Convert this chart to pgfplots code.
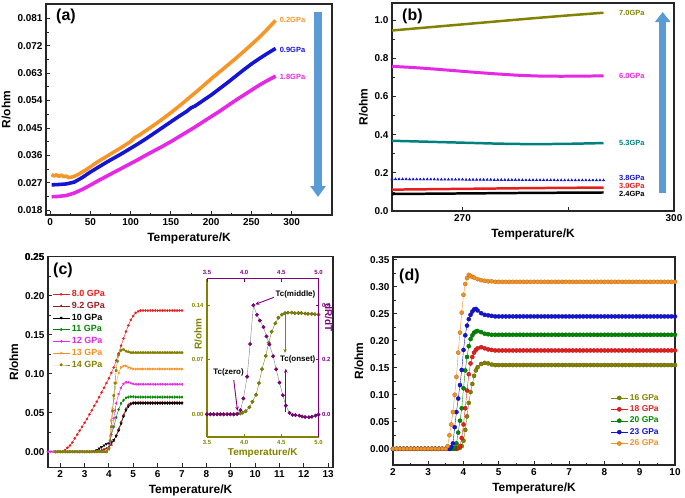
\documentclass[border=0pt]{standalone}
\usepackage{fontspec}
\setmainfont{Liberation Sans}
\usepackage{pgfplots}
\pgfplotsset{compat=1.18}
\usetikzlibrary{arrows.meta}

\definecolor{aorange}{RGB}{247,150,40}
\definecolor{ablue}{RGB}{20,20,210}
\definecolor{amag}{RGB}{230,40,230}
\definecolor{olv}{RGB}{130,130,0}
\definecolor{tealc}{RGB}{0,128,128}
\definecolor{redc}{RGB}{230,30,30}
\definecolor{dredc}{RGB}{150,30,30}
\definecolor{greenc}{RGB}{0,135,0}
\definecolor{orangec}{RGB}{245,145,35}
\definecolor{purp}{RGB}{128,0,128}
\definecolor{arrowblue}{RGB}{91,155,213}

\pgfplotsset{
  myaxis/.style={
    scale only axis,
    anchor=north west,
    tick align=inside,
    xtick pos=left, ytick pos=left,
    axis line style={line width=1.1pt, black!85},
    every tick/.style={black!85, line width=0.8pt},
    major tick length=4bp, minor tick length=2.5bp,
    tick label style={font=\bfseries\fontsize{10}{11}\selectfont},
    label style={font=\bfseries\fontsize{12}{13}\selectfont},
    /pgf/number format/assume math mode=true,
    scaled ticks=false,
  },
  dball/.style={line width=0.4pt, mark=*, mark size=2.1pt,
    mark options={fill=#1, draw=#1!75!black, line width=0.3pt}},
}
\tikzset{lab/.style={font=\bfseries\fontsize{7.5}{8}\selectfont, anchor=west, inner sep=0pt}}

\begin{document}
\begin{tikzpicture}
\path[use as bounding box] (0,0) rectangle (685bp,-498bp);

% ---------- (a)
\begin{axis}[myaxis, at={(46bp,-4bp)}, width=286bp, height=211bp,
  xmin=-5, xmax=350, ymin=0.0164, ymax=0.0857,
  xtick={0,50,...,300}, minor x tick num=1,
  ytick={0.018,0.027,0.036,0.045,0.054,0.063,0.072,0.081}, minor y tick num=1,
  yticklabel style={/pgf/number format/.cd, fixed, fixed zerofill, precision=3},
  xlabel={Temperature/K}, ylabel={R/ohm}]
\addplot[aorange, line width=3.6pt, line join=round] coordinates {
(2,0.0297)(5,0.0292)(8,0.0296)(11,0.0291)(14,0.0295)(17,0.0290)(20,0.0292)(23,0.0287)
(26,0.0288)(30,0.0291)(35,0.0297)(40,0.0305)(45,0.0313)(50,0.0322)(60,0.0340)(70,0.0356)
(80,0.0372)(90,0.0388)(100,0.0405)(105,0.0418)(110,0.0425)(120,0.0443)(130,0.0461)
(140,0.0480)(150,0.0500)(160,0.0521)(170,0.0543)(180,0.0565)(190,0.0588)(200,0.0611)
(210,0.0633)(220,0.0655)(230,0.0677)(240,0.0700)(250,0.0724)(260,0.0748)(270,0.0775)(280,0.0803)};
\addplot[ablue, line width=3.6pt, line join=round] coordinates {
(2,0.0263)(10,0.0264)(20,0.0266)(30,0.0272)(40,0.0287)(50,0.0305)(60,0.0321)(70,0.0337)
(80,0.0352)(90,0.0367)(100,0.0383)(110,0.0399)(120,0.0416)(130,0.0434)(140,0.0452)
(150,0.0470)(160,0.0488)(170,0.0505)(175,0.0516)(180,0.0522)(190,0.0540)(200,0.0558)
(210,0.0578)(220,0.0598)(230,0.0619)(240,0.0640)(250,0.0660)(260,0.0678)(270,0.0695)(280,0.0711)};
\addplot[amag, line width=3.6pt, line join=round] coordinates {
(2,0.0224)(10,0.0225)(20,0.0228)(30,0.0236)(40,0.0248)(50,0.0262)(60,0.0277)(70,0.0291)
(80,0.0305)(90,0.0319)(100,0.0333)(110,0.0347)(120,0.0362)(130,0.0376)(140,0.0390)
(150,0.0405)(160,0.0421)(170,0.0437)(180,0.0453)(190,0.0470)(200,0.0487)(210,0.0504)
(220,0.0522)(230,0.0540)(240,0.0557)(250,0.0574)(260,0.0591)(270,0.0606)(280,0.0620)};
\node[lab, aorange] at (axis cs:285,0.0805) {0.2GPa};
\node[lab, ablue] at (axis cs:285,0.0706) {0.9GPa};
\node[lab, amag] at (axis cs:285,0.0618) {1.8GPa};
\end{axis}

% ---------- (b)
\begin{axis}[myaxis, at={(392bp,-3bp)}, width=282bp, height=208bp,
  xmin=260, xmax=300, ymin=0, ymax=1.09,
  xtick={270,285,300}, xticklabels={270,,300},
  ytick={0,0.2,0.4,0.6,0.8,1.0}, minor y tick num=1,
  yticklabel style={/pgf/number format/.cd, fixed, fixed zerofill, precision=1},
  xlabel={Temperature/K}, ylabel={R/ohm}]
\addplot[olv, line width=2.5pt] coordinates {(260,0.946)(265,0.962)(270,0.978)(275,0.994)(280,1.010)(285,1.025)(290,1.039)};
\addplot[amag, line width=3pt] coordinates {(260,0.758)(263,0.752)(266,0.744)(269,0.735)(272,0.726)(275,0.718)(278,0.711)(281,0.707)(284,0.706)(287,0.707)(290,0.708)};
\addplot[tealc, line width=2.5pt] coordinates {(260,0.368)(265,0.363)(270,0.358)(275,0.353)(280,0.350)(285,0.352)(290,0.356)};
\addplot[ablue, only marks, mark=triangle*, mark size=1.4pt] coordinates {
(260,0.167)(260.5,0.167)(261,0.167)(261.5,0.167)(262,0.167)(262.5,0.166)(263,0.166)(263.5,0.166)(264,0.166)(264.5,0.166)
(265,0.166)(265.5,0.166)(266,0.166)(266.5,0.165)(267,0.165)(267.5,0.165)(268,0.165)(268.5,0.165)(269,0.165)(269.5,0.165)
(270,0.165)(270.5,0.164)(271,0.164)(271.5,0.164)(272,0.164)(272.5,0.164)(273,0.164)(273.5,0.164)(274,0.164)(274.5,0.163)
(275,0.163)(275.5,0.163)(276,0.163)(276.5,0.163)(277,0.163)(277.5,0.163)(278,0.163)(278.5,0.162)(279,0.162)(279.5,0.162)
(280,0.162)(280.5,0.162)(281,0.162)(281.5,0.162)(282,0.162)(282.5,0.162)(283,0.162)(283.5,0.161)(284,0.161)(284.5,0.161)
(285,0.161)(285.5,0.161)(286,0.161)(286.5,0.161)(287,0.161)(287.5,0.161)(288,0.161)(288.5,0.161)(289,0.161)(289.5,0.161)(290,0.161)};
\addplot[redc, line width=2.5pt] coordinates {(260,0.112)(270,0.116)(280,0.120)(290,0.123)};
\addplot[black, line width=2.5pt] coordinates {(260,0.089)(270,0.092)(280,0.095)(290,0.097)};
\node[lab, olv] at (axis cs:292.2,1.039) {7.0GPa};
\node[lab, amag] at (axis cs:292.2,0.709) {6.0GPa};
\node[lab, tealc] at (axis cs:292.2,0.358) {5.3GPa};
\node[lab, ablue] at (axis cs:292.2,0.174) {3.8GPa};
\node[lab, redc] at (axis cs:292.2,0.133) {3.0GPa};
\node[lab, black] at (axis cs:292.2,0.090) {2.4GPa};
\end{axis}

% ---------- (c)
\begin{axis}[myaxis, at={(48bp,-256.7bp)}, width=285bp, height=210.6bp,
  xmin=1.5, xmax=13.2, ymin=-0.02, ymax=0.25,
  xtick={2,3,...,13}, ytick={0,0.05,0.1,0.15,0.2,0.25},
  minor y tick num=1,
  yticklabel style={/pgf/number format/.cd, fixed, fixed zerofill, precision=2},
  xlabel={Temperature/K}, ylabel={R/ohm},
  legend style={at={(0.015,0.85)}, anchor=north west, draw=none, fill=none, inner sep=0pt,
    font=\bfseries\fontsize{9}{10}\selectfont, legend cell align=left}]
\addplot[redc, line width=0.4pt, mark=*, mark size=1.1pt] coordinates {
(2.0,0)(2.1,0)(2.2,.002)(2.3,.005)(2.4,.008)(2.5,.012)(2.6,.017)(2.7,.022)(2.8,.027)(2.9,.032)
(3.0,.037)(3.1,.042)(3.2,.048)(3.3,.053)(3.4,.059)(3.5,.064)(3.6,.070)(3.7,.076)(3.8,.082)(3.9,.088)
(4.0,.094)(4.1,.101)(4.2,.108)(4.3,.117)(4.4,.126)(4.5,.136)(4.6,.145)(4.7,.154)(4.8,.162)(4.9,.169)
(5.0,.174)(5.1,.178)(5.2,.180)(5.3,.181)(5.4,.181)(5.5,.181)(5.6,.181)(5.7,.181)(5.8,.181)(5.9,.181)
(6.0,.181)(6.1,.181)(6.2,.181)(6.3,.181)(6.4,.181)(6.5,.181)(6.6,.181)(6.7,.181)(6.8,.181)(6.9,.181)(7.0,.181)};
\addlegendentry{\textcolor{redc}{8.0 GPa}}
\addplot[dredc, line width=0.4pt, mark=triangle*, mark size=1.3pt] coordinates {
(1.8,0)(1.9,0)(2.0,0)(2.1,0)(2.2,0)(2.3,0)(2.4,0)(2.5,0)(2.6,0)(2.7,0)(2.8,0)(2.9,0)(3.0,0)(3.1,0)
(3.2,0)(3.3,0)(3.4,0)(3.5,0)(3.6,.001)(3.7,.002)(3.8,.003)(3.9,.004)(4.0,.006)(4.1,.009)(4.2,.014)
(4.3,.021)(4.4,.029)(4.5,.038)(4.6,.047)(4.7,.055)(4.8,.060)(4.9,.062)(5.0,.063)(5.1,.063)(5.2,.063)
(5.3,.063)(5.4,.063)(5.5,.063)(5.6,.063)(5.7,.063)(5.8,.063)(5.9,.063)(6.0,.063)(6.1,.063)(6.2,.063)
(6.3,.063)(6.4,.063)(6.5,.063)(6.6,.063)(6.7,.063)(6.8,.063)(6.9,.063)(7.0,.063)};
\addlegendentry{\textcolor{dredc}{9.2 GPa}}
\addplot[black, line width=0.4pt, mark=triangle*, mark size=1.3pt, mark options={rotate=180}] coordinates {
(1.8,0)(1.9,0)(2.0,0)(2.1,0)(2.2,0)(2.3,0)(2.4,0)(2.5,0)(2.6,0)(2.7,0)(2.8,0)(2.9,0)(3.0,0)(3.1,0)
(3.2,0)(3.3,0)(3.4,.001)(3.5,.002)(3.6,.004)(3.7,.006)(3.8,.008)(3.9,.010)(4.0,.011)(4.1,.012)(4.2,.015)
(4.3,.020)(4.4,.027)(4.5,.036)(4.6,.045)(4.7,.053)(4.8,.058)(4.9,.061)(5.0,.062)(5.1,.062)(5.2,.062)
(5.3,.062)(5.4,.062)(5.5,.062)(5.6,.062)(5.7,.062)(5.8,.062)(5.9,.062)(6.0,.062)(6.1,.062)(6.2,.062)
(6.3,.062)(6.4,.062)(6.5,.062)(6.6,.062)(6.7,.062)(6.8,.062)(6.9,.062)(7.0,.062)};
\addlegendentry{\textcolor{black}{10 GPa}}
\addplot[greenc, line width=0.4pt, mark=diamond*, mark size=1.3pt] coordinates {
(1.8,0)(1.9,0)(2.0,0)(2.1,0)(2.2,0)(2.3,0)(2.4,0)(2.5,0)(2.6,0)(2.7,0)(2.8,0)(2.9,0)(3.0,0)(3.1,0)
(3.2,0)(3.3,0)(3.4,0)(3.5,0)(3.6,0)(3.7,0)(3.8,0)(3.9,0)(4.0,.005)(4.05,.014)(4.1,.022)(4.2,.032)
(4.3,.044)(4.4,.054)(4.5,.062)(4.6,.066)(4.7,.069)(4.8,.070)(4.9,.0705)(5.0,.0705)(5.1,.070)(5.2,.070)
(5.3,.070)(5.4,.070)(5.5,.070)(5.6,.070)(5.7,.070)(5.8,.070)(5.9,.070)(6.0,.070)(6.1,.070)(6.2,.070)
(6.3,.070)(6.4,.070)(6.5,.070)(6.6,.070)(6.7,.070)(6.8,.070)(6.9,.070)(7.0,.070)};
\addlegendentry{\textcolor{greenc}{11 GPa}}
\addplot[amag, line width=0.4pt, mark=triangle*, mark size=1.3pt, mark options={rotate=90}] coordinates {
(1.5,0)(1.6,0)(1.7,0)(1.8,0)(1.9,0)(2.0,0)(2.1,0)(2.2,0)(2.3,0)(2.4,0)(2.5,0)(2.6,0)(2.7,0)(2.8,0)
(2.9,0)(3.0,0)(3.1,0)(3.2,0)(3.3,0)(3.4,0)(3.5,0)(3.6,0)(3.7,0)(3.8,0)(3.9,0)(4.0,.003)(4.05,.012)
(4.1,.022)(4.15,.032)(4.2,.043)(4.25,.053)(4.3,.062)(4.4,.074)(4.5,.082)(4.6,.087)(4.7,.089)(4.8,.089)
(4.9,.088)(5.0,.087)(5.1,.0865)(5.2,.0865)(5.3,.0865)(5.4,.0865)(5.5,.0865)(5.6,.0865)(5.7,.0865)
(5.8,.0865)(5.9,.0865)(6.0,.0865)(6.1,.0865)(6.2,.0865)(6.3,.0865)(6.4,.0865)(6.5,.0865)(6.6,.0865)
(6.7,.0865)(6.8,.0865)(6.9,.0865)(7.0,.0865)};
\addlegendentry{\textcolor{amag}{12 GPa}}
\addplot[orangec, line width=0.4pt, mark=triangle*, mark size=1.3pt, mark options={rotate=-90}] coordinates {
(1.8,0)(1.9,0)(2.0,0)(2.1,0)(2.2,0)(2.3,0)(2.4,0)(2.5,0)(2.6,0)(2.7,0)(2.8,0)(2.9,0)(3.0,0)(3.1,0)
(3.2,0)(3.3,0)(3.4,0)(3.5,0)(3.6,0)(3.7,0)(3.8,0)(3.9,0)(4.0,.004)(4.05,.020)(4.1,.040)(4.15,.055)
(4.2,.068)(4.3,.088)(4.4,.101)(4.5,.108)(4.6,.110)(4.7,.110)(4.8,.108)(4.9,.107)(5.0,.106)(5.1,.106)
(5.2,.106)(5.3,.106)(5.4,.106)(5.5,.106)(5.6,.106)(5.7,.106)(5.8,.106)(5.9,.106)(6.0,.106)(6.1,.106)
(6.2,.106)(6.3,.106)(6.4,.106)(6.5,.106)(6.6,.106)(6.7,.106)(6.8,.106)(6.9,.106)(7.0,.106)};
\addlegendentry{\textcolor{orangec}{13 GPa}}
\addplot[olv, line width=0.4pt, mark=pentagon*, mark size=1.3pt] coordinates {
(1.8,0)(1.9,0)(2.0,0)(2.1,0)(2.2,0)(2.3,0)(2.4,0)(2.5,0)(2.6,0)(2.7,0)(2.8,0)(2.9,0)(3.0,0)(3.1,0)
(3.2,0)(3.3,0)(3.4,0)(3.5,0)(3.6,0)(3.7,0)(3.8,0)(3.9,0)(4.0,.004)(4.05,.014)(4.1,.032)(4.15,.052)
(4.2,.072)(4.25,.088)(4.3,.104)(4.35,.116)(4.4,.124)(4.5,.130)(4.6,.131)(4.7,.129)(4.8,.128)(4.9,.127)
(5.0,.127)(5.1,.127)(5.2,.127)(5.3,.127)(5.4,.127)(5.5,.127)(5.6,.127)(5.7,.127)(5.8,.127)(5.9,.127)
(6.0,.127)(6.1,.127)(6.2,.127)(6.3,.127)(6.4,.127)(6.5,.127)(6.6,.127)(6.7,.127)(6.8,.127)(6.9,.127)(7.0,.127)};
\addlegendentry{\textcolor{olv}{14 GPa}}
\end{axis}

% ---------- (c) inset, R axis
\begin{axis}[myaxis, at={(207bp,-278.5bp)}, width=111.5bp, height=158.5bp,
  xmin=3.5, xmax=5.0, ymin=-0.0292, ymax=0.1744,
  axis x line*=bottom, axis y line*=left,
  axis line style={line width=1.1pt, olv},
  every tick/.style={olv, line width=0.6pt}, major tick length=3bp,
  xtick={3.5,4.0,4.5,5.0}, ytick={0,0.07,0.14},
  tick label style={font=\bfseries\fontsize{6}{7}\selectfont, text=olv},
  xticklabel style={/pgf/number format/.cd, fixed, fixed zerofill, precision=1},
  yticklabel style={/pgf/number format/.cd, fixed, fixed zerofill, precision=2},
  label style={font=\bfseries\fontsize{10}{11}\selectfont, text=olv},
  xlabel={Temperature/K}, ylabel={R/ohm},
  xlabel style={yshift=3bp},
  ylabel style={at={(axis description cs:-0.08,0.65)}, anchor=center}]
\addplot[olv, dball=olv, mark size=1.8pt] coordinates {
(3.50,0)(3.545,0)(3.59,0)(3.635,0)(3.68,0)(3.725,0)(3.77,0)(3.815,0)(3.86,0)(3.905,0)(3.95,0.001)
(3.98,0.002)(4.02,0.004)(4.07,0.009)(4.11,0.016)(4.16,0.025)(4.20,0.040)(4.24,0.058)(4.29,0.075)
(4.33,0.092)(4.37,0.106)(4.42,0.117)(4.46,0.124)(4.51,0.128)(4.55,0.130)(4.59,0.1305)(4.64,0.1305)
(4.68,0.130)(4.73,0.130)(4.77,0.130)(4.82,0.1295)(4.86,0.129)(4.91,0.129)(4.95,0.1285)(5.0,0.128)};
\end{axis}

% ---------- (c) inset, dR/dT axis
\begin{axis}[myaxis, at={(207bp,-278.5bp)}, width=111.5bp, height=158.5bp,
  xmin=3.5, xmax=5.0, ymin=-0.0834, ymax=0.498,
  axis x line*=top, axis y line*=right, xtick pos=right, ytick pos=right,
  axis line style={line width=1.1pt, purp},
  every tick/.style={purp, line width=0.6pt}, major tick length=3bp,
  xtick={3.5,4.0,4.5,5.0}, ytick={0,0.2,0.4},
  tick label style={font=\bfseries\fontsize{6}{7}\selectfont, text=purp},
  xticklabel style={/pgf/number format/.cd, fixed, fixed zerofill, precision=1},
  yticklabel style={/pgf/number format/.cd, fixed, fixed zerofill, precision=1},
  label style={font=\bfseries\fontsize{10}{11}\selectfont, text=purp},
  ylabel={dR/dT},
  ylabel style={at={(axis description cs:1.09,0.755)}, anchor=center, rotate=180},
  clip=false]
\addplot[gray, dball=purp, mark size=1.8pt] coordinates {
(3.50,0)(3.545,0)(3.59,0)(3.635,0)(3.68,0)(3.725,0)(3.77,0)(3.815,0)(3.86,0.0)(3.905,0.002)
(3.95,0.015)(3.99,0.058)(4.04,0.138)(4.08,0.258)(4.125,0.40)(4.17,0.365)(4.21,0.344)(4.26,0.32)
(4.30,0.286)(4.34,0.256)(4.39,0.213)(4.43,0.165)(4.475,0.116)(4.52,0.07)(4.56,0.032)(4.61,0.005)
(4.65,-0.002)(4.69,-0.003)(4.74,-0.005)(4.78,-0.008)(4.82,-0.01)(4.87,-0.011)(4.91,-0.009)(4.96,-0.005)(5.0,-0.001)};
\node[font=\bfseries\fontsize{8}{9}\selectfont] at (axis cs:4.69,0.438) {Tc(middle)};
\draw[purp, line width=0.9pt, -{Stealth[length=4bp,width=3.5bp]}] (axis cs:4.40,0.429) -- (axis cs:4.15,0.403);
\node[font=\bfseries\fontsize{8}{9}\selectfont] at (axis cs:3.79,0.153) {Tc(zero)};
\draw[purp, line width=0.9pt, -{Stealth[length=4bp,width=3.5bp]}] (axis cs:3.86,0.126) -- (axis cs:3.91,0.013);
\node[font=\bfseries\fontsize{8}{9}\selectfont] at (axis cs:4.72,0.201) {Tc(onset)};
\draw[olv, line width=0.9pt, -{Stealth[length=4bp,width=3.5bp]}] (axis cs:4.55,0.369) -- (axis cs:4.55,0.225);
\draw[purp, line width=0.9pt, -{Stealth[length=4bp,width=3.5bp]}] (axis cs:4.56,0.007) -- (axis cs:4.56,0.167);
\end{axis}

% ---------- (d)
\begin{axis}[myaxis, at={(393bp,-257bp)}, width=282bp, height=208bp,
  xmin=2, xmax=10, ymin=-0.03, ymax=0.355,
  xtick={2,3,...,10}, minor x tick num=1,
  ytick={0,0.05,0.10,0.15,0.20,0.25,0.30,0.35}, minor y tick num=1,
  yticklabel style={/pgf/number format/.cd, fixed, fixed zerofill, precision=2},
  xlabel={Temperature/K}, ylabel={R/ohm},
  legend style={at={(0.95,0.075)}, anchor=south east, draw=none, fill=none, inner sep=0pt,
    font=\bfseries\fontsize{8.5}{9.5}\selectfont, legend cell align=left}]
\addplot[olv, dball=olv] coordinates {
(2.0,0)(2.1,0)(2.2,0)(2.3,0)(2.4,0)(2.5,0)(2.6,0)(2.7,0)(2.8,0)(2.9,0)(3.0,0)(3.1,0)(3.2,0)(3.3,0)
(3.4,0)(3.5,0)(3.6,0)(3.7,0)(3.8,0)(3.85,.001)(3.9,.002)(3.95,.005)(4.0,.015)(4.05,.035)(4.1,.060)
(4.15,.085)(4.2,.105)(4.25,.120)(4.3,.135)(4.35,.145)(4.4,.151)(4.5,.157)(4.6,.159)(4.7,.158)(4.8,.156)
(4.9,.155)(5.0,.155)(5.1,.155)(5.2,.155)(5.3,.155)(5.4,.155)(5.5,.155)(5.6,.155)(5.7,.155)(5.8,.155)
(5.9,.155)(6.0,.155)(6.1,.155)(6.2,.155)(6.3,.155)(6.4,.155)(6.5,.155)(6.6,.155)(6.7,.155)(6.8,.155)
(6.9,.155)(7.0,.155)(7.1,.155)(7.2,.155)(7.3,.155)(7.4,.155)(7.5,.155)(7.6,.155)(7.7,.155)(7.8,.155)
(7.9,.155)(8.0,.155)(8.1,.155)(8.2,.155)(8.3,.155)(8.4,.155)(8.5,.155)(8.6,.155)(8.7,.155)(8.8,.155)
(8.9,.155)(9.0,.155)(9.1,.155)(9.2,.155)(9.3,.155)(9.4,.155)(9.5,.155)(9.6,.155)(9.7,.155)(9.8,.155)
(9.9,.155)(10.0,.155)};
\addlegendentry{\textcolor{olv}{16 GPa}}
\addplot[redc, dball=redc] coordinates {
(2.0,0)(2.1,0)(2.2,0)(2.3,0)(2.4,0)(2.5,0)(2.6,0)(2.7,0)(2.8,0)(2.9,0)(3.0,0)(3.1,0)(3.2,0)(3.3,0)
(3.4,0)(3.5,0)(3.6,0)(3.7,0)(3.8,0)(3.85,.002)(3.9,.005)(3.95,.020)(4.0,.045)(4.05,.075)(4.1,.108)
(4.15,.138)(4.2,.158)(4.25,.170)(4.3,.178)(4.35,.183)(4.4,.186)(4.5,.188)(4.6,.186)(4.7,.184)(4.8,.183)
(4.9,.182)(5.0,.182)(5.1,.182)(5.2,.182)(5.3,.182)(5.4,.182)(5.5,.182)(5.6,.182)(5.7,.182)(5.8,.182)
(5.9,.182)(6.0,.182)(6.1,.182)(6.2,.182)(6.3,.182)(6.4,.182)(6.5,.182)(6.6,.182)(6.7,.182)(6.8,.182)
(6.9,.182)(7.0,.182)(7.1,.182)(7.2,.182)(7.3,.182)(7.4,.182)(7.5,.182)(7.6,.182)(7.7,.182)(7.8,.182)
(7.9,.182)(8.0,.182)(8.1,.182)(8.2,.182)(8.3,.182)(8.4,.182)(8.5,.182)(8.6,.182)(8.7,.182)(8.8,.182)
(8.9,.182)(9.0,.182)(9.1,.182)(9.2,.182)(9.3,.182)(9.4,.182)(9.5,.182)(9.6,.182)(9.7,.182)(9.8,.182)
(9.9,.182)(10.0,.182)};
\addlegendentry{\textcolor{redc}{18 GPa}}
\addplot[greenc, dball=greenc] coordinates {
(2.0,0)(2.1,0)(2.2,0)(2.3,0)(2.4,0)(2.5,0)(2.6,0)(2.7,0)(2.8,0)(2.9,0)(3.0,0)(3.1,0)(3.2,0)(3.3,0)
(3.4,0)(3.5,0)(3.6,0)(3.7,0)(3.75,.002)(3.8,.010)(3.85,.030)(3.9,.052)(3.95,.075)(4.0,.112)(4.05,.145)
(4.1,.170)(4.15,.190)(4.2,.203)(4.25,.210)(4.3,.215)(4.35,.217)(4.4,.218)(4.5,.216)(4.6,.213)(4.7,.212)
(4.8,.211)(4.9,.211)(5.0,.211)(5.1,.211)(5.2,.211)(5.3,.211)(5.4,.211)(5.5,.211)(5.6,.211)(5.7,.211)
(5.8,.211)(5.9,.211)(6.0,.211)(6.1,.211)(6.2,.211)(6.3,.211)(6.4,.211)(6.5,.211)(6.6,.211)(6.7,.211)
(6.8,.211)(6.9,.211)(7.0,.211)(7.1,.211)(7.2,.211)(7.3,.211)(7.4,.211)(7.5,.211)(7.6,.211)(7.7,.211)
(7.8,.211)(7.9,.211)(8.0,.211)(8.1,.211)(8.2,.211)(8.3,.211)(8.4,.211)(8.5,.211)(8.6,.211)(8.7,.211)
(8.8,.211)(8.9,.211)(9.0,.211)(9.1,.211)(9.2,.211)(9.3,.211)(9.4,.211)(9.5,.211)(9.6,.211)(9.7,.211)
(9.8,.211)(9.9,.211)(10.0,.211)};
\addlegendentry{\textcolor{greenc}{20 GPa}}
\addplot[ablue, dball=ablue] coordinates {
(2.0,0)(2.1,0)(2.2,0)(2.3,0)(2.4,0)(2.5,0)(2.6,0)(2.7,0)(2.8,0)(2.9,0)(3.0,0)(3.1,0)(3.2,0)(3.3,0)
(3.4,0)(3.5,0)(3.6,0)(3.65,.003)(3.7,.010)(3.75,.040)(3.8,.068)(3.85,.093)(3.9,.118)(3.95,.146)
(4.0,.183)(4.05,.210)(4.1,.228)(4.15,.240)(4.2,.248)(4.25,.254)(4.3,.258)(4.35,.259)(4.4,.256)
(4.5,.251)(4.6,.248)(4.7,.247)(4.8,.246)(4.9,.245)(5.0,.245)(5.1,.245)(5.2,.245)(5.3,.245)(5.4,.245)
(5.5,.245)(5.6,.245)(5.7,.245)(5.8,.245)(5.9,.245)(6.0,.245)(6.1,.245)(6.2,.245)(6.3,.245)(6.4,.245)
(6.5,.245)(6.6,.245)(6.7,.245)(6.8,.245)(6.9,.245)(7.0,.245)(7.1,.245)(7.2,.245)(7.3,.245)(7.4,.245)
(7.5,.245)(7.6,.245)(7.7,.245)(7.8,.245)(7.9,.245)(8.0,.245)(8.1,.245)(8.2,.245)(8.3,.245)(8.4,.245)
(8.5,.245)(8.6,.245)(8.7,.245)(8.8,.245)(8.9,.245)(9.0,.245)(9.1,.245)(9.2,.245)(9.3,.245)(9.4,.245)
(9.5,.245)(9.6,.245)(9.7,.245)(9.8,.245)(9.9,.245)(10.0,.245)};
\addlegendentry{\textcolor{ablue}{23 GPa}}
\addplot[orangec, dball=orangec] coordinates {
(2.0,0)(2.1,0)(2.2,0)(2.3,0)(2.4,0)(2.5,0)(2.6,0)(2.7,0)(2.8,0)(2.9,0)(3.0,0)(3.1,0)(3.2,0)(3.3,0)
(3.4,0)(3.5,0)(3.55,.005)(3.6,.025)(3.65,.045)(3.7,.068)(3.75,.100)(3.8,.133)(3.85,.178)(3.9,.215)
(3.95,.252)(4.0,.285)(4.05,.305)(4.1,.316)(4.15,.322)(4.2,.320)(4.25,.318)(4.3,.317)(4.4,.314)
(4.5,.312)(4.6,.311)(4.7,.310)(4.8,.310)(4.9,.309)(5.0,.309)(5.1,.309)(5.2,.309)(5.3,.309)(5.4,.309)
(5.5,.309)(5.6,.309)(5.7,.309)(5.8,.309)(5.9,.309)(6.0,.309)(6.1,.309)(6.2,.309)(6.3,.309)(6.4,.309)
(6.5,.309)(6.6,.309)(6.7,.309)(6.8,.309)(6.9,.309)(7.0,.309)(7.1,.309)(7.2,.309)(7.3,.309)(7.4,.309)
(7.5,.309)(7.6,.309)(7.7,.309)(7.8,.309)(7.9,.309)(8.0,.309)(8.1,.309)(8.2,.309)(8.3,.309)(8.4,.309)
(8.5,.309)(8.6,.309)(8.7,.309)(8.8,.309)(8.9,.309)(9.0,.309)(9.1,.309)(9.2,.309)(9.3,.309)(9.4,.309)
(9.5,.309)(9.6,.309)(9.7,.309)(9.8,.309)(9.9,.309)(10.0,.309)};
\addlegendentry{\textcolor{orangec}{26 GPa}}
\end{axis}

% panel letters, top tick label of (c), and arrows
\node[font=\bfseries\fontsize{10}{11}\selectfont, anchor=east, inner sep=0pt] at (44.5bp,-256.7bp) {0.25};
\node[font=\bfseries\fontsize{16}{18}\selectfont, anchor=west, inner sep=0pt] at (56bp,-16bp) {(a)};
\node[font=\bfseries\fontsize{16}{18}\selectfont, anchor=west, inner sep=0pt] at (402bp,-16bp) {(b)};
\node[font=\bfseries\fontsize{16}{18}\selectfont, anchor=west, inner sep=0pt] at (53bp,-270bp) {(c)};
\node[font=\bfseries\fontsize{16}{18}\selectfont, anchor=west, inner sep=0pt] at (399bp,-276bp) {(d)};
\draw[arrowblue, line width=7.5bp, -{Triangle[width=15bp,length=11bp]}] (318bp,-12bp) -- (318bp,-197bp);
\draw[arrowblue, line width=7.5bp, -{Triangle[width=15bp,length=10bp]}] (662.7bp,-193bp) -- (662.7bp,-12bp);
\end{tikzpicture}
\end{document}
